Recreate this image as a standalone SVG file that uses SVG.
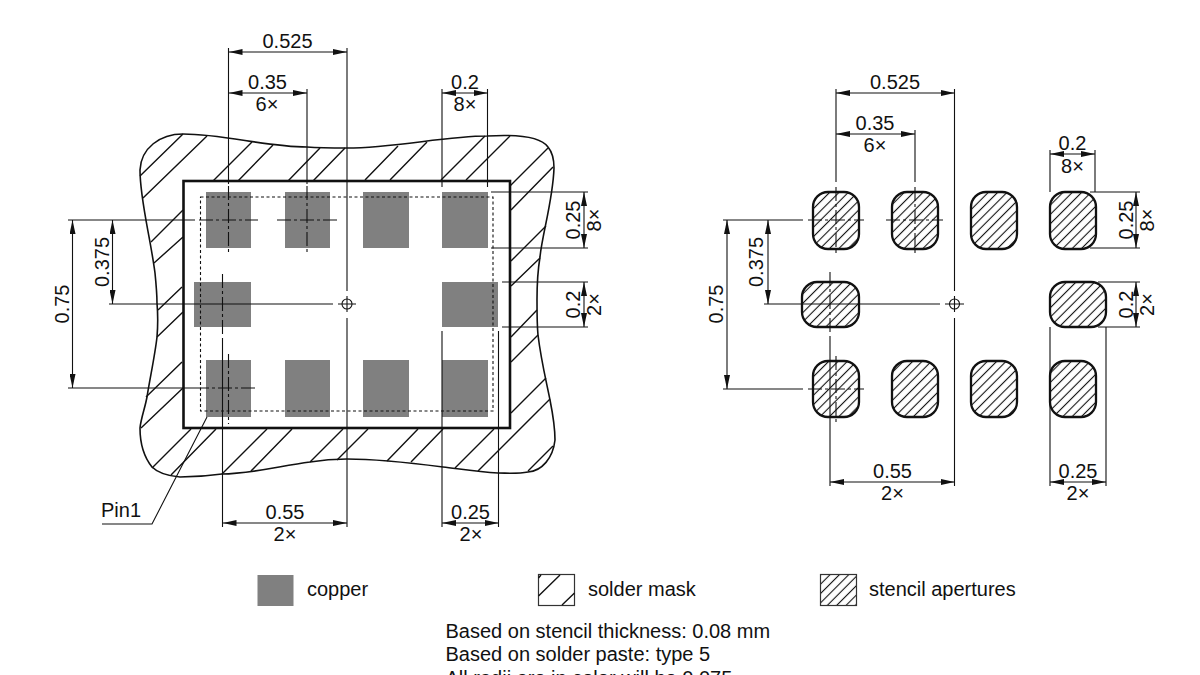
<svg xmlns="http://www.w3.org/2000/svg" width="1200" height="675" viewBox="0 0 1200 675">
<style>
text{font-family:"Liberation Sans",Arial,sans-serif;font-size:20px;fill:#111}
.c{text-anchor:middle}
.d{fill:none;stroke:#111;stroke-width:1.1}
.cl{fill:none;stroke:#111;stroke-width:1.1;stroke-dasharray:14 3 3 3}
.h{fill:none;stroke:#111;stroke-width:1.4}
.cu{fill:#808080}
.ap{fill:url(#hatch);stroke:#111;stroke-width:2.3}
.ar{fill:none;stroke:#111;stroke-width:1.1;marker-start:url(#a);marker-end:url(#a)}
</style>
<defs>
<pattern id="hatch" width="6.6" height="6.6" patternUnits="userSpaceOnUse" patternTransform="rotate(-45)"><rect width="6.6" height="6.6" fill="#fff"/><line x1="0" y1="3.3" x2="6.6" y2="3.3" stroke="#111" stroke-width="1.1"/></pattern>
<marker id="a" viewBox="0 0 14 6" refX="14" refY="3" markerWidth="14" markerHeight="6" markerUnits="userSpaceOnUse" orient="auto-start-reverse"><path d="M0 0L14 3L0 6Z" fill="#111"/></marker>
</defs>
<rect width="1200" height="675" fill="#fff"/>

<g id="solder-mask">
<path d="M140 170C141 148 160 134 183 134C225 134 265 147 307 147C320 148 335 148 347 148C395 148 445 136 487 136C520 134 541 137 548 147C553 153 554 160 554 168C553 200 542 235 540 257C537 275 537 290 537 300C537 312 537 325 538 335C541 360 546 380 550 400C553 415 555 428 555 440C553 458 542 471 528 472C517 474 507 473 498 473C478 472 460 469 443 467C412 463 378 459 347 459C335 459 322 460 310 462C280 466 250 474 222 474C208 476 194 477 180 477C168 476 158 473 152 467C144 457 140 442 140 428C141 418 145 408 147 397C150 378 155 355 157 337C158 325 158 315 157 303C157 293 156 283 155 273C150 235 140 200 140 170Z" fill="#fff" stroke="#111" stroke-width="1.6"/>
<path class="h" d="M140 176L183 134M207 136L143 198M252 142L213 181M273 145L238 181M320 148L288 181M345 148L313 181M398 146L365 180M427 142L390 180M485 136L441 180M510 136L466 180M548 148L510 186M553 167L511 210M546 226L511 261M540 258L511 286M537 310L511 337M538 335L511 362M546 378L511 413M550 399L478 471M494 429L455 468M553 446L528 471M443 429L411 462M418 429L387 461M368 429L337 460M343 429L310 462M292 429L251 471M267 429L222 474M216 429L171 475M191 429L152 468M183 388L141 428M182 362L146 397M183 312L157 337M182 287L158 310M183 210L151 242M183 237L154 263"/>
<rect x="183.5" y="181" width="326.5" height="247" fill="#fff" stroke="#111" stroke-width="2.6"/>
</g>
<g id="copper-pads">
<rect class="cu" x="206" y="192" width="45" height="56"/><rect class="cu" x="285" y="192" width="45" height="56"/><rect class="cu" x="363" y="192" width="46" height="56"/><rect class="cu" x="442" y="192" width="46" height="56"/>
<rect class="cu" x="194" y="282" width="57" height="45"/><rect class="cu" x="442" y="282" width="56" height="45"/>
<rect class="cu" x="206" y="360" width="45" height="57"/><rect class="cu" x="285" y="360" width="45" height="57"/><rect class="cu" x="363" y="360" width="46" height="57"/><rect class="cu" x="442" y="360" width="46" height="57"/>
</g>
<g id="stencil-outline"><rect x="200.5" y="197" width="292.5" height="214" fill="none" stroke="#111" stroke-width="1.1" stroke-dasharray="3 2.5"/></g>
<g id="apertures">
<rect class="ap" x="813" y="192" width="46" height="57" rx="15"/><rect class="ap" x="892" y="192" width="46" height="57" rx="15"/><rect class="ap" x="971" y="192" width="46" height="57" rx="15"/><rect class="ap" x="1050" y="192" width="46" height="57" rx="15"/>
<rect class="ap" x="802" y="282" width="57" height="45" rx="15"/><rect class="ap" x="1050" y="282" width="56" height="45" rx="15"/>
<rect class="ap" x="813" y="361" width="46" height="56" rx="15"/><rect class="ap" x="892" y="361" width="46" height="56" rx="15"/><rect class="ap" x="971" y="361" width="46" height="56" rx="15"/><rect class="ap" x="1050" y="361" width="46" height="56" rx="15"/>
</g>

<g id="connectors">
<path class="d" d="M228.5 48V184M347 48V291M347 318V527M307 89V184M442 89V187M487.5 89V187M491 192H588M491 248H588M502 282H588M502 327H588M68 220H195M68 388H195M109 304H333M222.5 338V527M442 331V527M498.5 331V527M102 524H152L207 417"/>
<path class="d" d="M836 89V182M954.5 89V291M954.5 318V486M915 130V182M1050 150V192M1095 150V192M1090 192H1140M1090 248H1140M1098 282H1140M1098 327H1140M723 220H803M723 389H803M764 304H940M830 336V486M1050 327V486M1106 327V486"/>
<path class="cl" d="M228.5 186V255M199 220H258M307 186V255M277 220H337M222.5 274V335M195 388H258M228.5 354V424"/>
<path class="cl" d="M836 187V253M808 220H864M915 187V253M886 220H943M830 272V332M808 389H864M836 356V422"/>
<g id="origin-marks"><circle class="d" cx="347" cy="304" r="5"/><path class="d" d="M338 304H356M347 296V312"/><circle class="d" cx="954.5" cy="304" r="5"/><path class="d" d="M945 304H964M954.5 296V312"/></g>
<line class="ar" x1="228.5" y1="52" x2="347" y2="52"/>
<line class="ar" x1="228.5" y1="93" x2="307" y2="93"/>
<line class="ar" x1="442" y1="93" x2="487.5" y2="93"/>
<line class="ar" x1="584" y1="192" x2="584" y2="248"/>
<line class="ar" x1="584" y1="282" x2="584" y2="327"/>
<line class="ar" x1="72.5" y1="220" x2="72.5" y2="388"/>
<line class="ar" x1="112.5" y1="220" x2="112.5" y2="304"/>
<line class="ar" x1="222.5" y1="523" x2="347" y2="523"/>
<line class="ar" x1="442" y1="523" x2="498.5" y2="523"/>
<line class="ar" x1="836" y1="93" x2="954.5" y2="93"/>
<line class="ar" x1="836" y1="134" x2="915" y2="134"/>
<line class="ar" x1="1050" y1="154" x2="1095" y2="154"/>
<line class="ar" x1="1136" y1="192" x2="1136" y2="248"/>
<line class="ar" x1="1136" y1="282" x2="1136" y2="327"/>
<line class="ar" x1="727" y1="220" x2="727" y2="389"/>
<line class="ar" x1="768" y1="220" x2="768" y2="304"/>
<line class="ar" x1="830" y1="482" x2="954.5" y2="482"/>
<line class="ar" x1="1050" y1="482" x2="1106" y2="482"/>
</g>

<g id="labels">
<text class="c" x="287.5" y="47.5">0.525</text>
<text class="c" x="267.5" y="88.5">0.35</text><text class="c" x="267" y="110.5">6×</text>
<text class="c" x="465" y="88.5">0.2</text><text class="c" x="465" y="110.5">8×</text>
<text class="c" transform="translate(580 220) rotate(-90)">0.25</text><text class="c" transform="translate(601 220) rotate(-90)">8×</text>
<text class="c" transform="translate(580 304.5) rotate(-90)">0.2</text><text class="c" transform="translate(601 304.5) rotate(-90)">2×</text>
<text class="c" transform="translate(68.5 304) rotate(-90)">0.75</text>
<text class="c" transform="translate(108.5 262) rotate(-90)">0.375</text>
<text x="101" y="517">Pin1</text>
<text class="c" x="285" y="518.5">0.55</text><text class="c" x="285" y="541">2×</text>
<text class="c" x="470.5" y="518.5">0.25</text><text class="c" x="471" y="541">2×</text>
<text class="c" x="895" y="88.5">0.525</text>
<text class="c" x="875" y="129.5">0.35</text><text class="c" x="875" y="151.5">6×</text>
<text class="c" x="1072.5" y="150">0.2</text><text class="c" x="1072.5" y="172.5">8×</text>
<text class="c" transform="translate(1133 220) rotate(-90)">0.25</text><text class="c" transform="translate(1154 220) rotate(-90)">8×</text>
<text class="c" transform="translate(1133 304.5) rotate(-90)">0.2</text><text class="c" transform="translate(1154 304.5) rotate(-90)">2×</text>
<text class="c" transform="translate(722.5 304) rotate(-90)">0.75</text>
<text class="c" transform="translate(763 262) rotate(-90)">0.375</text>
<text class="c" x="892.5" y="477.5">0.55</text><text class="c" x="892.5" y="500">2×</text>
<text class="c" x="1078" y="477.5">0.25</text><text class="c" x="1078" y="500">2×</text>
</g>

<g id="legend">
<rect class="cu" x="257.5" y="575" width="36" height="31"/>
<text x="307" y="596">copper</text>
<rect x="538.5" y="574.5" width="36" height="31" fill="#fff" stroke="#333" stroke-width="1.2"/>
<path class="h" d="M538.5 578L541 575M538.5 596L560 575M562 605L574.5 593"/>
<text x="588" y="596">solder mask</text>
<rect x="820.5" y="574.5" width="36" height="31" fill="url(#hatch)" stroke="#333" stroke-width="1.2"/>
<text x="869" y="596">stencil apertures</text>
<text x="445.5" y="638">Based on stencil thickness: 0.08 mm</text>
<text x="445.5" y="661">Based on solder paste: type 5</text>
<text x="445.5" y="685">All radii are in color will be 0.075</text>
</g>
</svg>
